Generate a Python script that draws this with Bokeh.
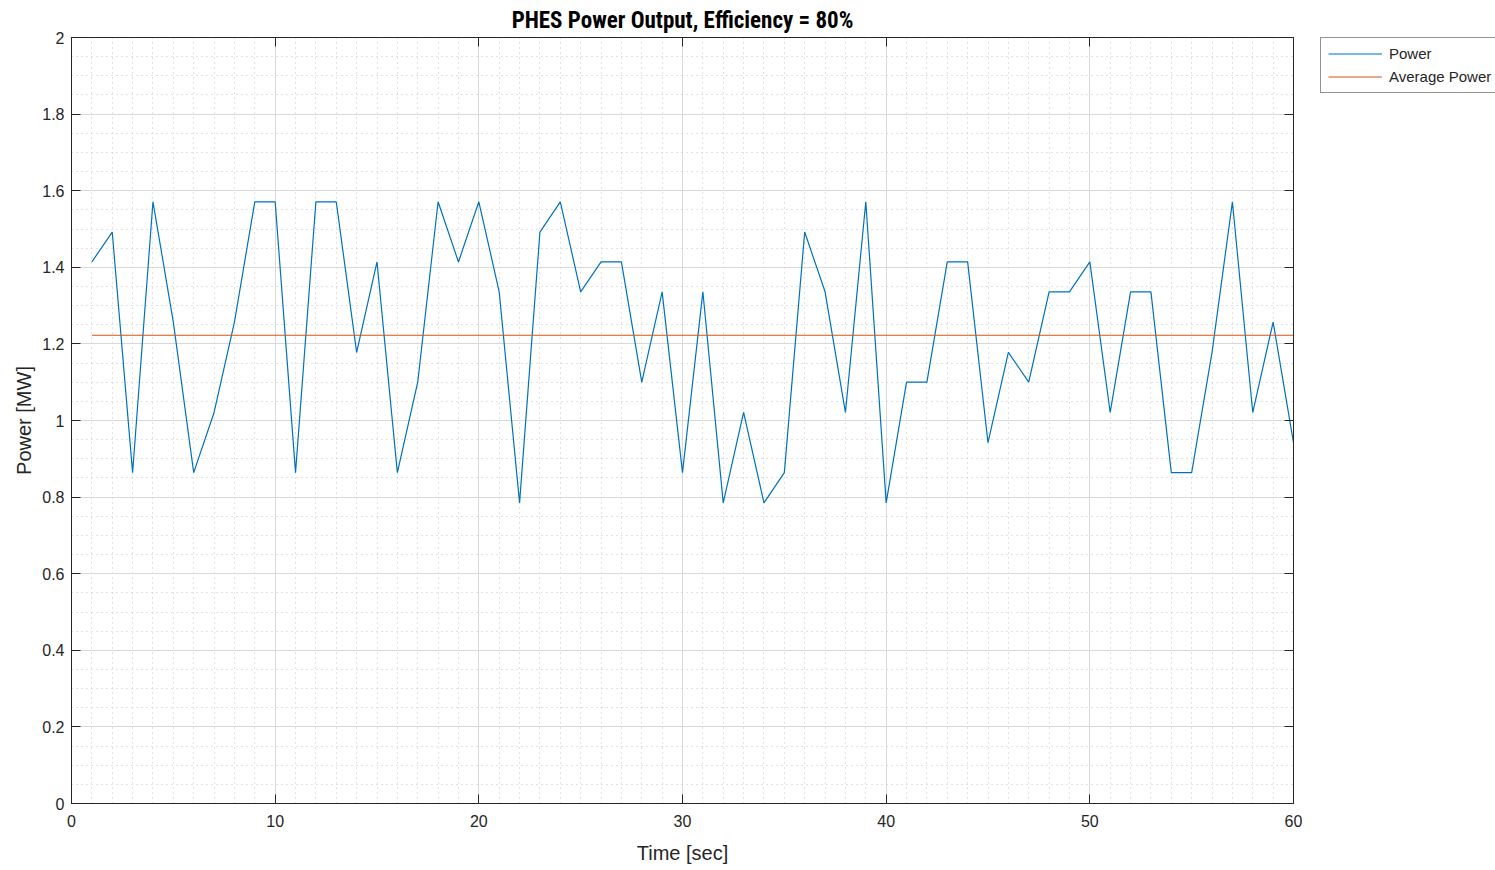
from bokeh.plotting import figure
from bokeh.layouts import row
from bokeh.models import Range1d, FixedTicker, LinearAxis, Legend, LegendItem
from bokeh.embed import file_html
from bokeh.resources import INLINE

# ---- data ----
time_sec = list(range(1, 61))
power_mw = [1.414, 1.492, 0.864, 1.571, 1.257, 0.864, 1.021, 1.257, 1.571, 1.571,
            0.864, 1.571, 1.571, 1.178, 1.414, 0.864, 1.100, 1.571, 1.414, 1.571,
            1.336, 0.785, 1.492, 1.571, 1.336, 1.414, 1.414, 1.100, 1.336, 0.864,
            1.336, 0.785, 1.021, 0.785, 0.864, 1.492, 1.336, 1.021, 1.571, 0.785,
            1.100, 1.100, 1.414, 1.414, 0.942, 1.178, 1.100, 1.336, 1.336, 1.414,
            1.021, 1.336, 1.336, 0.864, 0.864, 1.178, 1.571, 1.021, 1.257, 0.942]
avg_power_mw = 1.2226
avg_x = [1, 60]
avg_y = [avg_power_mw, avg_power_mw]

x_ticks = [0, 10, 20, 30, 40, 50, 60]
y_ticks = [0, 0.2, 0.4, 0.6, 0.8, 1, 1.2, 1.4, 1.6, 1.8, 2]
y_tick_labels = ["0", "0.2", "0.4", "0.6", "0.8", "1", "1.2", "1.4", "1.6", "1.8", "2"]
x_minor = list(range(0, 61))
y_minor = [i * 0.05 for i in range(0, 41)]

FONT = "Liberation Sans"
TXT = "#262626"
BLUE = "#0072BD"
ORANGE = "#D95319"

p = figure(width=1310, height=870, x_range=Range1d(0, 60), y_range=Range1d(0, 2),
           output_backend="svg", toolbar_location=None,
           min_border_left=71, min_border_right=17, min_border_top=37, min_border_bottom=67,
           title="PHES Power Output, Efficiency = 80%")
p.background_fill_color = "white"
p.border_fill_color = "white"
p.outline_line_color = TXT
p.outline_line_width = 1

p.title.align = "center"
p.title.text_font = "'Liberation Sans Narrow', 'Roboto Condensed', Roboto"
p.title.text_font_size = "23px"
p.title.text_font_style = "bold"
p.title.text_color = "black"
p.title.offset = 0
p.title.standoff = 8

l1 = p.line(time_sec, power_mw, line_color=BLUE, line_width=1.2)
l2 = p.line(avg_x, avg_y, line_color=ORANGE, line_width=1.2)

def style_axis(ax, show_labels):
    ax.major_tick_in = 9
    ax.major_tick_out = 0
    ax.minor_tick_in = 0
    ax.minor_tick_out = 0
    ax.axis_line_color = TXT
    ax.major_tick_line_color = TXT
    ax.major_label_text_font = FONT
    ax.major_label_text_font_size = "16px"
    ax.major_label_text_color = TXT if show_labels else None
    ax.axis_label_text_font = FONT
    ax.axis_label_text_font_size = "20px"
    ax.axis_label_text_font_style = "normal"
    ax.axis_label_text_color = TXT

p.xaxis.ticker = FixedTicker(ticks=x_ticks, minor_ticks=x_minor)
p.yaxis.ticker = FixedTicker(ticks=y_ticks, minor_ticks=y_minor)
p.yaxis.major_label_overrides = {t: s for t, s in zip(y_ticks, y_tick_labels)}
style_axis(p.xaxis[0], True)
style_axis(p.yaxis[0], True)
p.xaxis.axis_label = "Time [sec]"
p.yaxis.axis_label = "Power [MW]"
p.xaxis.major_label_standoff = 11
p.yaxis.major_label_standoff = 7
p.xaxis.axis_label_standoff = 12
p.yaxis.axis_label_standoff = 4

top_ax = LinearAxis(ticker=FixedTicker(ticks=x_ticks, minor_ticks=[]))
style_axis(top_ax, False)
top_ax.major_label_text_font_size = "0px"
top_ax.major_label_standoff = 0
p.add_layout(top_ax, "above")
right_ax = LinearAxis(ticker=FixedTicker(ticks=y_ticks, minor_ticks=[]))
style_axis(right_ax, False)
right_ax.major_label_text_font_size = "0px"
right_ax.major_label_standoff = 0
p.add_layout(right_ax, "right")

p.xgrid.ticker = FixedTicker(ticks=x_ticks, minor_ticks=x_minor)
p.ygrid.ticker = FixedTicker(ticks=y_ticks, minor_ticks=y_minor)
for g in (p.xgrid[0], p.ygrid[0]):
    g.grid_line_color = "#d9d9d9"
    g.grid_line_width = 1
    g.minor_grid_line_color = "#c4c4c4"
    g.minor_grid_line_dash = "1 4"
    g.minor_grid_line_width = 1

# legend panel to the right of the axes
q = figure(width=185, height=870, output_backend="svg", toolbar_location=None,
           x_axis_location=None, y_axis_location=None,
           min_border_left=10, min_border_right=0, min_border_top=37, min_border_bottom=67)
q.grid.visible = False
q.outline_line_color = None
q.background_fill_color = "white"
q.border_fill_color = "white"
k1 = q.line(time_sec, power_mw, line_color=BLUE, line_width=1.2, visible=False)
k2 = q.line(avg_x, avg_y, line_color=ORANGE, line_width=1.2, visible=False)

legend = Legend(items=[LegendItem(label="Power", renderers=[k1]),
                       LegendItem(label="Average Power", renderers=[k2])],
                location="top_left")
legend.label_text_font = FONT
legend.label_text_font_size = "15px"
legend.label_text_color = TXT
legend.glyph_width = 54
legend.glyph_height = 17
legend.label_height = 17
legend.label_standoff = 7
legend.padding = 7
legend.spacing = 6
legend.margin = 0
legend.border_line_color = TXT
legend.border_line_width = 1
legend.background_fill_color = "white"
legend.inactive_fill_alpha = 0
q.add_layout(legend, "center")

open("out.html", "w").write(file_html(row(p, q), INLINE))
